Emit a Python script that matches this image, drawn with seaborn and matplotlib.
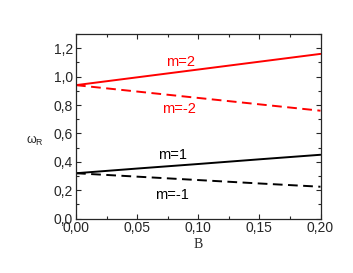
import numpy as np
import pandas as pd
import matplotlib
matplotlib.use("Agg")
import matplotlib.pyplot as plt
from matplotlib.ticker import MultipleLocator, FuncFormatter
import seaborn as sns

# values
B = [0.00, 0.05, 0.10, 0.15, 0.20]
w_m2 = [0.94, 0.995, 1.05, 1.105, 1.16]
w_mm2 = [0.94, 0.895, 0.85, 0.805, 0.76]
w_m1 = [0.32, 0.353, 0.385, 0.418, 0.45]
w_mm1 = [0.32, 0.296, 0.272, 0.248, 0.225]

labels = ["m=2", "m=-2", "m=1", "m=-1"]
label_x = [0.0852, 0.0844, 0.079, 0.0787]
label_y = [1.106, 0.773, 0.449, 0.167]

sns.set_style("ticks")
plt.rcParams["font.family"] = ["Liberation Sans", "DejaVu Sans"]
plt.rcParams["mathtext.fontset"] = "custom"
plt.rcParams["mathtext.rm"] = "Liberation Sans"
plt.rcParams["mathtext.it"] = "Liberation Sans"

df = pd.DataFrame({"B": B * 4,
                   "w": w_m2 + w_mm2 + w_m1 + w_mm1,
                   "m": sum([[l] * len(B) for l in labels], [])})

fig = plt.figure(figsize=(3.53, 2.73), dpi=100)
ax = fig.add_axes([76 / 353, 1 - 218.7 / 273, (320.5 - 76) / 353, (218.7 - 34) / 273])

colors = {"m=2": "#ff0000", "m=-2": "#ff0000", "m=1": "black", "m=-1": "black"}
dashes = {"m=2": "", "m=-2": (5, 2.8), "m=1": "", "m=-1": (5, 2.8)}
sns.lineplot(data=df, x="B", y="w", hue="m", style="m", palette=colors,
             dashes=dashes, linewidth=1.4, legend=False, ax=ax)

for lab, lx, ly in zip(labels, label_x, label_y):
    ax.text(lx, ly, lab, color=colors[lab], fontsize=10.5, ha="center", va="center")

ax.set_xlim(0, 0.2)
ax.set_ylim(0, 1.3)
ax.xaxis.set_major_locator(MultipleLocator(0.05))
ax.xaxis.set_minor_locator(MultipleLocator(0.025))
ax.yaxis.set_major_locator(MultipleLocator(0.2))
ax.yaxis.set_minor_locator(MultipleLocator(0.1))
ax.xaxis.set_major_formatter(FuncFormatter(lambda v, p: f"{v:.2f}".replace(".", ",")))
ax.yaxis.set_major_formatter(FuncFormatter(lambda v, p: f"{v:.1f}".replace(".", ",")))
ax.tick_params(which="both", direction="in", top=True, right=True, labelsize=10,
               width=0.8, pad=2)
ax.tick_params(which="major", length=3.5)
ax.tick_params(which="minor", length=2)
for s in ax.spines.values():
    s.set_linewidth(0.9)

ax.set_xlabel("B", fontfamily="Liberation Serif", fontsize=10, labelpad=2)
ax.set_ylabel("")
fig.text(35 / 353, 1 - 141 / 273, r"$\omega_\mathrm{R}$", fontsize=9, ha="center", va="center")

fig.savefig("out.png", dpi=100)
